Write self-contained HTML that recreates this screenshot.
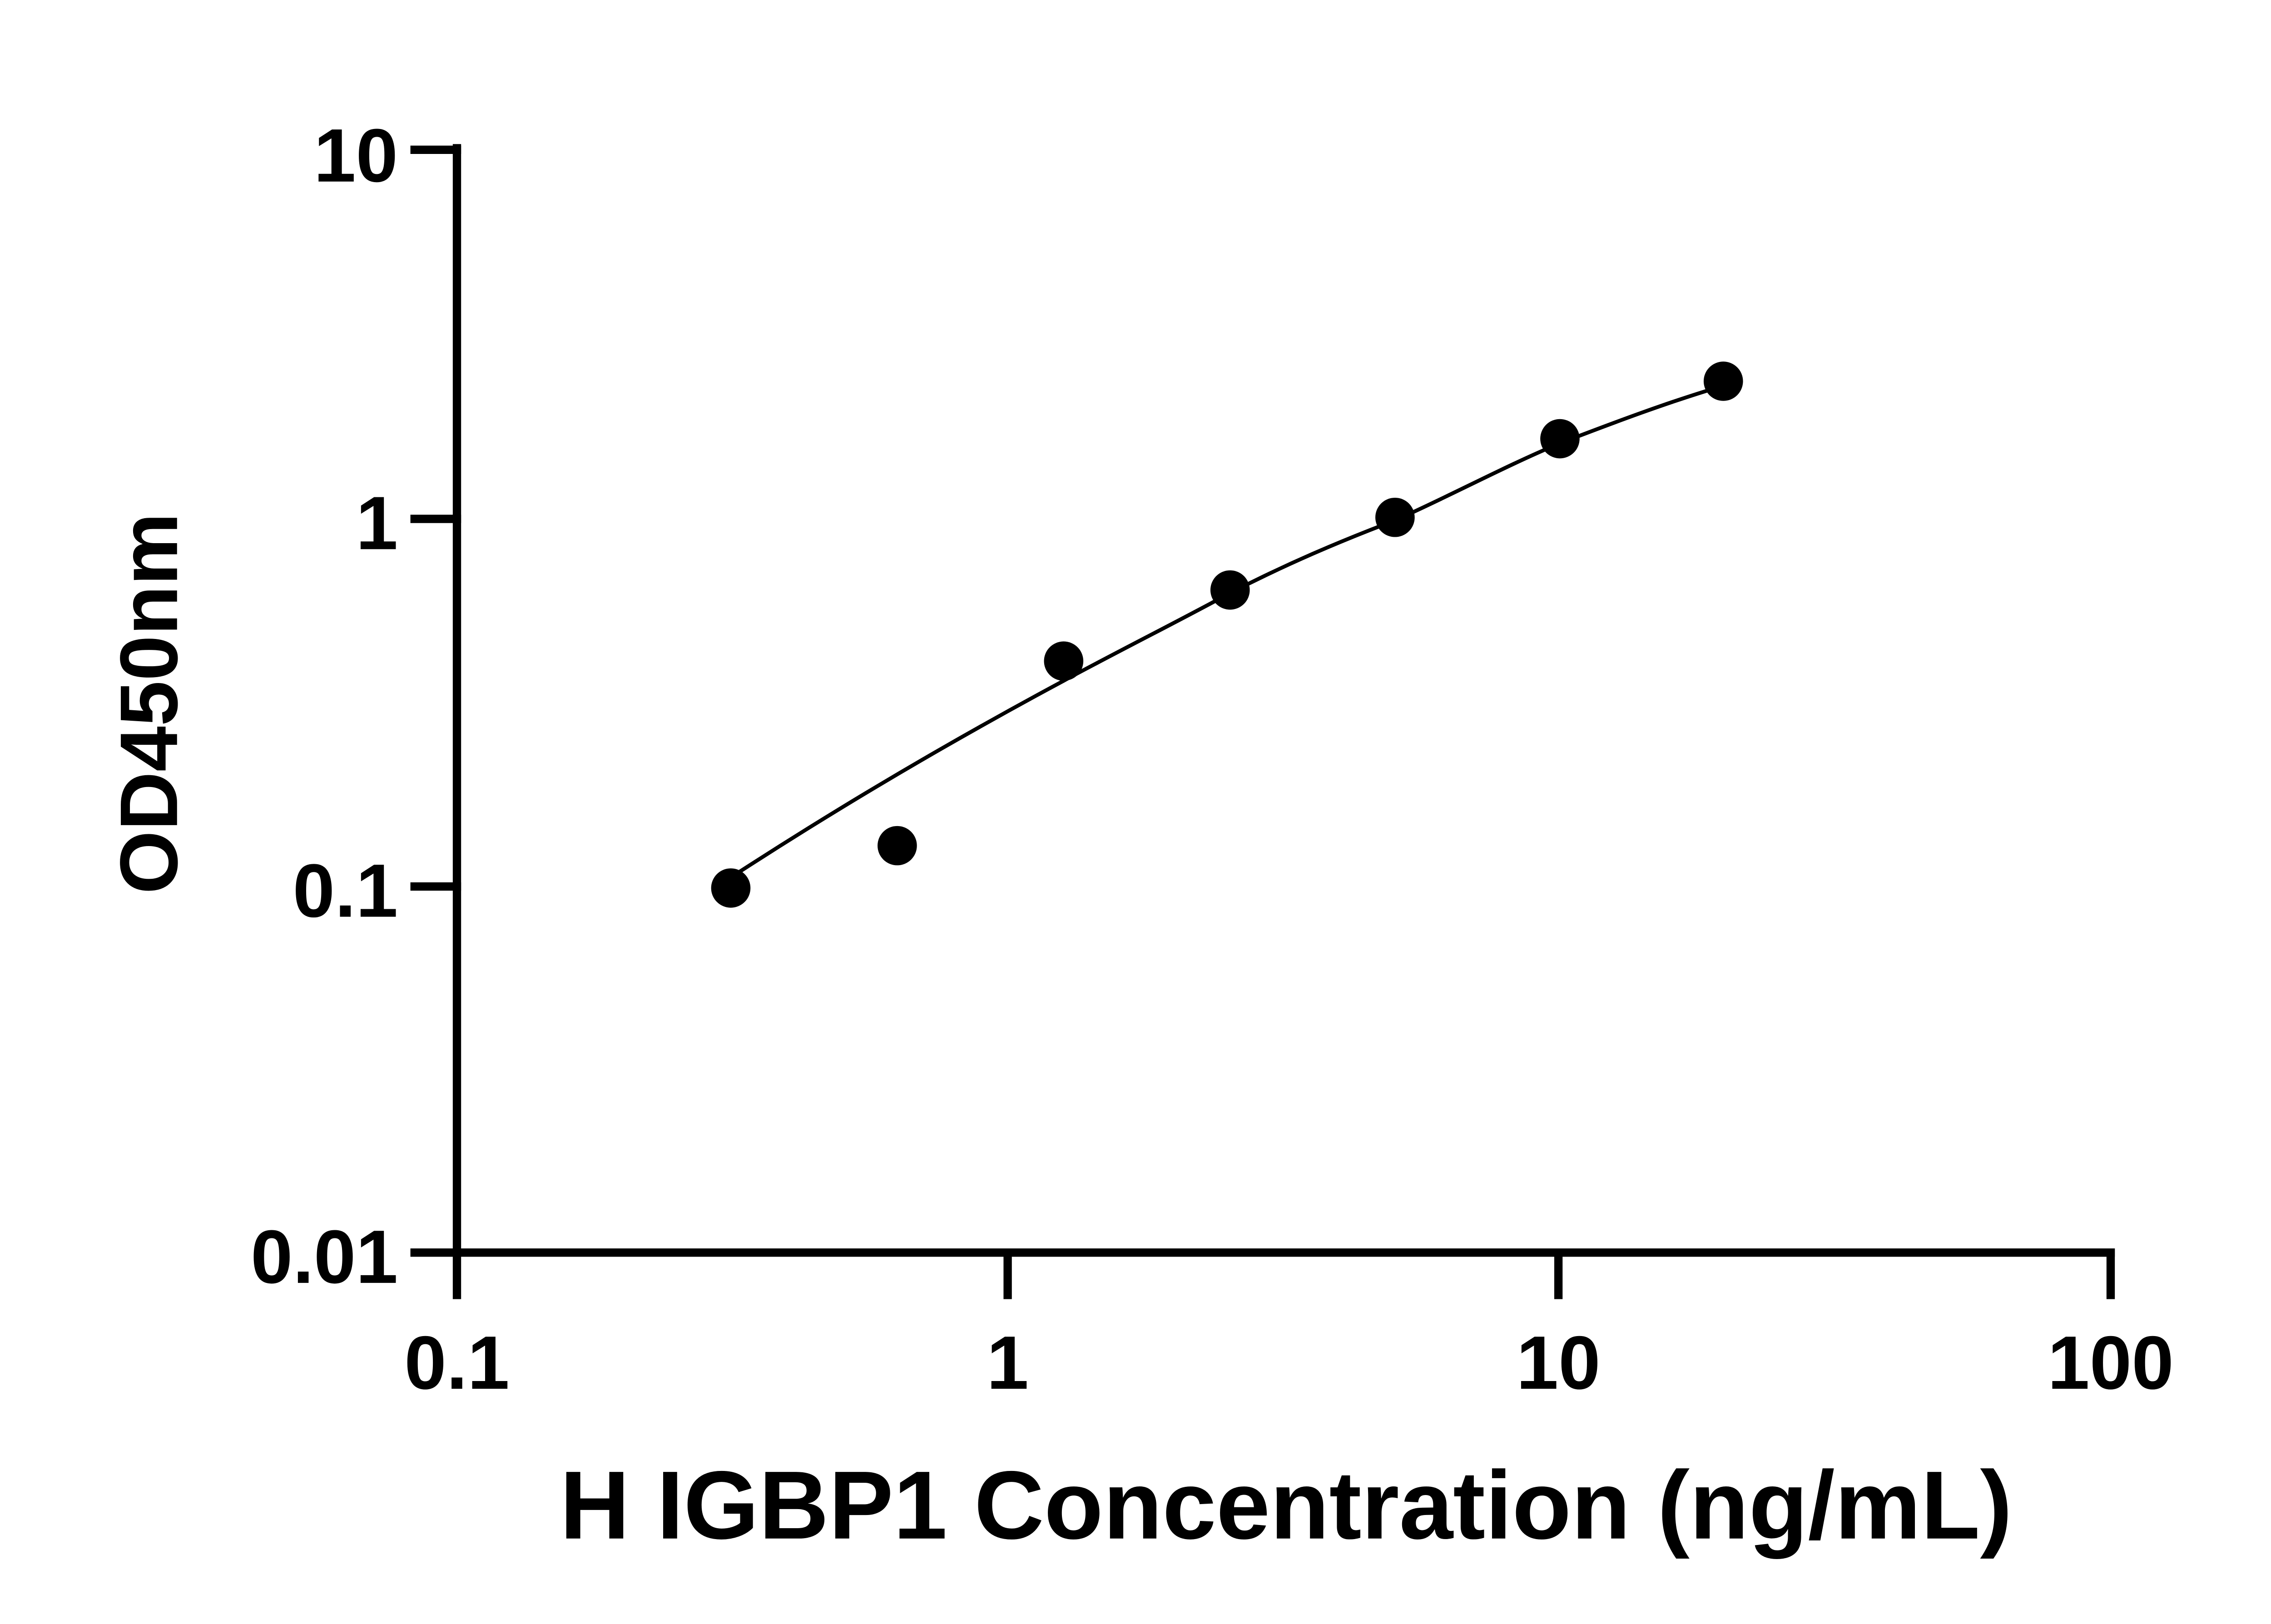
<!DOCTYPE html>
<html><head><meta charset="utf-8"><style>html,body{margin:0;padding:0;background:#fff}svg{display:block}</style></head>
<body>
<svg width="5170" height="3576" viewBox="0 0 1552 1073.5" xmlns="http://www.w3.org/2000/svg">
<rect width="1552" height="1073.5" fill="#fff"/>
<g stroke="#000" stroke-width="5.5" fill="none" stroke-linecap="square">
<line x1="302" y1="98" x2="302" y2="828"/>
<line x1="302" y1="828" x2="1395" y2="828"/>
<line x1="274" y1="99" x2="302" y2="99"/>
<line x1="274" y1="343" x2="302" y2="343"/>
<line x1="274" y1="586" x2="302" y2="586"/>
<line x1="274" y1="828" x2="302" y2="828"/>
<line x1="302" y1="828" x2="302" y2="856"/>
<line x1="666" y1="828" x2="666" y2="856"/>
<line x1="1030" y1="828" x2="1030" y2="856"/>
<line x1="1395" y1="828" x2="1395" y2="856"/>
</g>
<path d="M483,580 C540,543 610,500 703,450 C740,430 780,410 813,392 C850,373 885,358 922,344 C960,327 995,308 1031,293 C1070,278 1105,265 1139,255" stroke="#000" stroke-width="2.5" fill="none"/>
<g fill="#000">
<circle cx="483" cy="587" r="13"/>
<circle cx="593" cy="559" r="13"/>
<circle cx="703" cy="437" r="13"/>
<circle cx="813" cy="390" r="13"/>
<circle cx="922" cy="342" r="13"/>
<circle cx="1031" cy="290" r="13"/>
<circle cx="1139" cy="252" r="13"/>
</g>
<g font-family="Liberation Sans, Arial, sans-serif" font-weight="bold" font-size="50" fill="#000">
<text x="263" y="120" text-anchor="end">10</text>
<text x="263" y="363" text-anchor="end">1</text>
<text x="263" y="606" text-anchor="end">0.1</text>
<text x="263" y="848" text-anchor="end">0.01</text>
<text x="302" y="918" text-anchor="middle">0.1</text>
<text x="666" y="918" text-anchor="middle">1</text>
<text x="1030" y="918" text-anchor="middle">10</text>
<text x="1395" y="918" text-anchor="middle">100</text>
<text x="850" y="1017" text-anchor="middle" font-size="64">H IGBP1 Concentration (ng/mL)</text>
<text transform="translate(117,465) rotate(-90)" text-anchor="middle" font-size="54">OD450nm</text>
</g>
</svg>
</body></html>
